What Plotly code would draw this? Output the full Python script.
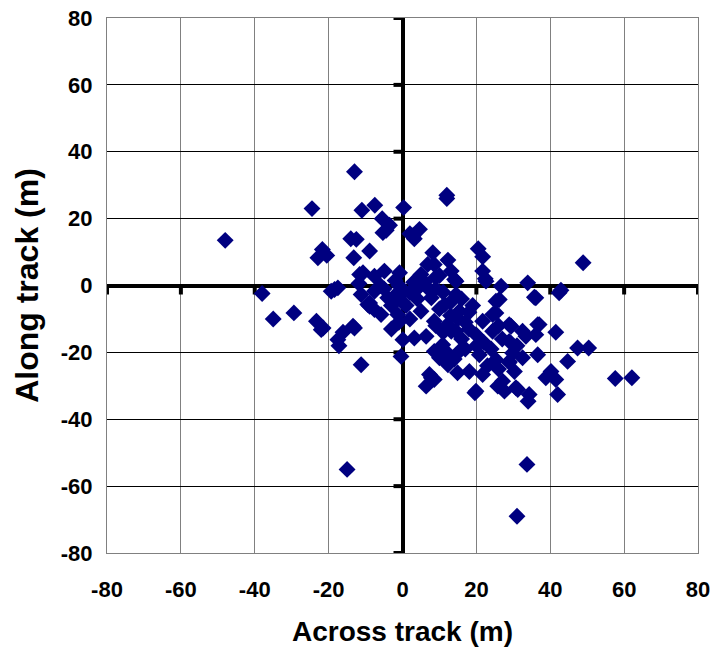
import plotly.graph_objects as go

# Across-track (x) and along-track (y) errors in metres
across = [
    -48, -13, -24.5, -11, -7.5, 0.3, -5.5, -3.5, -4.4, -5.3, 12, 12, 2, 3.2, 4.6, 2.8,
    -14, -12.5, -21.7, -22.9, -20.5, -8.9, -13.2, 8.2, 12.3, 6.8, 8.6, 20.5, 21.7, 48.9,
    21.7, 22.4, 26.7, 33.9, 42.9, 42.4, 35.7, 36.1, 14.5, 14.1, 13.2, 5, -0.8, -4.9,
    -11.6, -10.7, -7.6, -11.8, -17.5, -18.4, -19.3, -38, -35, -29.4, -23.3, -22, -21.5,
    -16.1, -13, -13.4, -17.2, -17.5, -11.2, -0.4, 0.1, 3.2, 6.4, -15, 33.7, 31,
    -7.6, -4, 0.5, 7.8, 11.4, -9.4, -8.9, -7.6, -5.8, -1.3, 5, 8.6, 12.2, -11.2, -8.9,
    -2, -1, 0, 2, 3, 4, -3, -5, -1, 1, 6, 9, 10, -6, -2, 2, -3, 4, 11, 9, 7, 10,
    14.5, 15.4, 24.4, 28.9, 37, 21.7, 25.3, 26.2, 25.3, 22.6, 14.5, 19.9, 24.4, 32.5,
    36.1, 28.9, 15.4, 20.8, 25.3, 28.9, 32.5, 36.6, 18.1, 21.7, 27.1, 30.7, 19.9, 34.3,
    7.8, 6.4, 10, 12.3, 10.9, 8.6, 13.2, 41.5, 36.6, 33.4, 44.7, 47.4, 50.4, 57.6, 62.1,
    40.2, 41.5, 42, 38.8, 34, 31.2, 27.6, 25.8, 19.6, 8.6, 7.3, 14.9, 28.9, 30.3, 29.8,
    29.4, 16, 18, 17, 19, 13, 16, 22, 24, 26, 12, 14, 17, 23, 26, 20, 18, 31, 27, 15,
    11, 9, 13,
]
along = [
    13.5, 34, 23, 22.5, 24, 23.3, 20, 18, 16.5, 15.8, 27, 26, 15.5, 14, 16.8, 14.8,
    14, 13.8, 10.8, 8.3, 9, 10.3, 8.3, 9.8, 7.6, 6.3, 6.3, 11, 8.6, 6.8,
    4.3, 2, -0.2, 0.8, -1.4, -2.2, -3.5, -3.7, 1.3, 1.8, 4.3, 3.3, 3.8, 4.3,
    3.3, 3.8, 2.8, 0.6, -0.7, -1.2, -1.7, -2.4, -10, -8.2, -10.7, -13.2, -12.7,
    -14, -12.7, -12.2, -18, -16.2, -23.7, -21.2, -16.2, -15.7, -15.2, -55, -53.5, -69,
    -1.7, -3.7, -1.7, -3.7, -5.7, -5.7, -5.2, -7.2, -8.7, -8.7, -7.7, -10.7, -11.7, -2.7, -6.2,
    -3, 0, -5, -2, 1, -4, -6, -1, -11, -6, 1, -1, 3, 0, 1.5, -10, -13, -1, -2, 2.5, -1, -7,
    -2.7, -7.7, -8.7, -11.7, -11.7, -10.7, -4.7, -4.2, -8.2, 1.3, -13.7, -14.7, -13.7, -13.7,
    -14.7, -16.7, -19.7, -20.7, -22.2, -22.7, -21.6, -20.7, -25.7, -26.6, -28.6, -30.6, -31.6, -32.6,
    -27.6, -30.1, -21.6, -23.7, -17.7, -19.7, -13.7, -14, -11.7, -15.2, -22.7, -18.7, -18.7, -27.8, -27.6,
    -25.7, -28.1, -32.6, -27.6, -34.6, -31.1, -31.6, -30.1, -32.1, -28.1, -26.6, -26.1, -23, -25.7, -20.2,
    -12.2, -4, -8, -11, -6, -9, -16, -17, -19, -12, -20, -22, -19, -24, -25, -18, -13, -18, -16, -10,
    -14, -12, -5,
]

tick_vals = [-80, -60, -40, -20, 0, 20, 40, 60, 80]
x_title = "Across track (m)"
y_title = "Along track (m)"

font_family = "Liberation Sans, Arial, sans-serif"

fig = go.Figure()
fig.add_trace(go.Scatter(
    x=across, y=along, mode="markers",
    marker=dict(symbol="diamond", size=13, color="#000080", line=dict(width=0)),
    showlegend=False, cliponaxis=False,
))

shapes = []
for t in tick_vals:
    if t == 0:
        continue
    # tick stubs on the horizontal zero axis
    shapes.append(dict(type="line", xref="x", yref="y", ysizemode="pixel", yanchor=0,
                       x0=t, x1=t, y0=0, y1=-9, layer="between",
                       line=dict(color="black", width=4)))
    # tick stubs on the vertical zero axis
    shapes.append(dict(type="line", xref="x", yref="y", xsizemode="pixel", xanchor=0,
                       x0=0, x1=-9, y0=t, y1=t, layer="between",
                       line=dict(color="black", width=4)))

fig.update_layout(
    width=713, height=649,
    margin=dict(l=107, r=15, t=18, b=96, autoexpand=False),
    paper_bgcolor="white", plot_bgcolor="white",
    shapes=shapes,
    font=dict(family=font_family, color="black"),
    xaxis=dict(
        range=[-80, 80], tickvals=tick_vals, ticktext=[str(v) for v in tick_vals],
        showgrid=True, gridcolor="#808080", gridwidth=1,
        zeroline=True, zerolinecolor="black", zerolinewidth=4,
        showline=True, linecolor="#808080", linewidth=1, mirror=True,
        ticks="", ticklabelstandoff=17, automargin=False, ticklabeloverflow="allow",
        tickfont=dict(size=22, family=font_family, weight="bold"),
        title=dict(text=x_title, font=dict(size=28, family=font_family, weight="bold"), standoff=19),
        fixedrange=True,
    ),
    yaxis=dict(
        range=[-80, 80], tickvals=tick_vals, ticktext=[str(v) for v in tick_vals],
        showgrid=True, gridcolor="black", gridwidth=1,
        zeroline=True, zerolinecolor="black", zerolinewidth=4,
        showline=True, linecolor="#808080", linewidth=1, mirror=True,
        ticks="", ticklabelstandoff=9, automargin=False, ticklabeloverflow="allow",
        tickfont=dict(size=22, family=font_family, weight="bold"),
        title=dict(text=y_title, font=dict(size=32, family=font_family, weight="bold"), standoff=12),
        fixedrange=True,
    ),
)

# remove the browser's default page margin so the figure sits at the window origin
fig.write_html(
    "out.html",
    config={"displayModeBar": False},
    post_script="document.body.style.margin='0';document.body.style.overflow='hidden';",
)
